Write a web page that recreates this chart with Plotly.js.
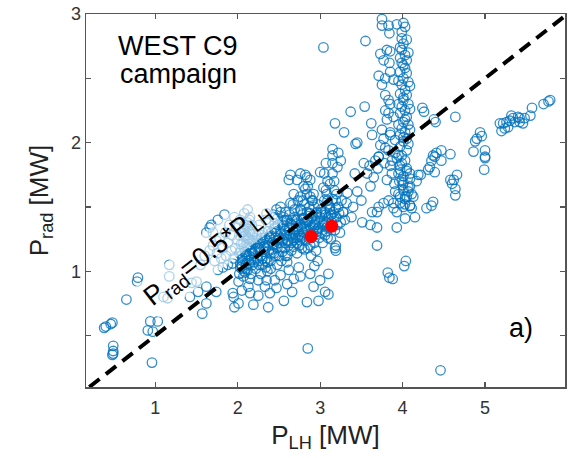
<!DOCTYPE html>
<html>
<head>
<meta charset="utf-8">
<script src="https://cdn.plot.ly/plotly-3.0.1.min.js"></script>
<style>html,body{margin:0;padding:0;background:#fff;}#chart{width:568px;height:458px;}</style>
</head>
<body>
<div id="chart"></div>
<script>
// ---- data (P_LH [MW], P_rad [MW]), grouped by region ----
const leftX = [0.38,0.40,0.46,0.48,0.49,0.49,0.49,0.48,0.65,0.78,
 0.79,0.94,1.03,0.91,0.97,0.96,1.17,1.17,1.10,1.15,
 1.44,1.50,1.42,1.52,1.62,1.74,1.62,1.57,1.76,1.82,
 1.88,1.94,1.94,1.96];
const leftY = [0.56,0.57,0.59,0.60,0.42,0.38,0.36,0.35,0.78,0.92,
 0.95,0.61,0.61,0.54,0.53,0.29,1.05,0.96,0.80,0.79,
 0.91,0.92,0.80,0.84,0.88,0.84,0.75,0.67,1.01,1.03,
 1.05,1.06,0.83,0.72];

const lowX = [2.37,2.19,2.25,2.05,2.13,2.01,1.95,2.56,2.66,2.84,
 2.98,3.10,2.85,4.46,2.01,2.15,2.33,2.39,2.47,2.60,
 2.68,2.76,2.74,2.62,2.52,2.45,2.35,2.25,2.15,2.07,
 2.92,3.06,3.00,2.88,3.10,2.60,2.81,2.72,2.93,2.97,
 4.04,4.02,3.82,3.84,3.88,3.69,3.19,3.19,3.18];
const lowY = [0.72,0.74,0.81,0.85,0.88,0.92,0.80,0.77,0.84,0.76,
 0.77,0.82,0.40,0.23,0.75,0.83,0.88,0.83,0.87,0.90,
 0.94,0.96,1.03,1.01,0.97,0.93,0.93,0.93,0.94,0.96,
 0.88,0.84,0.93,0.98,0.98,1.07,1.17,1.22,1.04,1.08,
 1.08,1.04,0.99,0.95,0.94,1.20,1.20,1.16,1.18];

const lightX = [1.60,1.66,1.70,1.75,1.78,1.82,1.85,1.88,1.90,1.93,
 1.96,1.98,2.00,2.03,2.05,2.08,2.10,1.72,1.80,1.86,
 1.92,1.97,2.02,1.55,1.66,1.76,1.84,2.12,2.15,1.95,
 1.68,1.62,1.70,1.74];
const lightY = [1.12,1.16,1.20,1.14,1.26,1.18,1.30,1.22,1.36,1.28,
 1.42,1.34,1.24,1.40,1.30,1.45,1.36,1.08,1.10,1.12,
 1.16,1.18,1.14,1.05,1.34,1.40,1.44,1.48,1.42,1.10,
 1.36,1.30,1.30,1.24];

const coreX = [2.02,2.05,2.08,2.10,2.12,2.06,2.14,2.09,2.16,2.11,
 2.07,2.13,2.10,2.15,2.12,2.08,2.17,2.14,2.18,2.20,
 2.19,2.04,2.03,2.21,2.16,
 2.22,2.25,2.28,2.24,2.30,2.32,2.27,2.35,2.36,2.33,
 2.38,2.40,2.42,2.41,2.44,2.46,2.48,2.45,2.50,2.52,
 2.50,2.54,2.55,2.57,2.58,2.56,2.30,2.26,2.38,2.43,
 2.48,2.36,2.28,2.53,2.60,2.35,2.47,2.52,2.23,2.40,
 2.62,2.64,2.66,2.63,2.68,2.70,2.72,2.69,2.74,2.76,
 2.78,2.75,2.80,2.82,2.84,2.86,2.88,2.90,2.87,2.92,
 2.94,2.96,2.93,2.98,3.00,2.99,2.65,2.72,2.78,2.85,
 2.60,2.67,2.73,2.81,2.91,2.97,2.62,2.83,2.89,2.95,
 3.02,3.04,3.06,3.08,3.10,3.12,3.09,3.14,3.16,3.18,
 3.20,3.22,3.25,3.28,3.05,3.15,3.24,3.03,3.13,3.30];
const coreY = [0.98,1.02,1.00,1.05,1.08,1.10,1.12,1.15,1.18,1.20,
 1.22,1.25,1.28,1.30,1.33,1.36,1.36,1.40,1.05,1.10,
 1.22,1.16,1.06,1.15,0.98,
 1.02,1.08,1.12,1.18,1.05,1.15,1.22,1.10,1.20,1.26,
 1.16,1.08,1.22,1.30,1.14,1.26,1.18,1.34,1.22,1.30,
 1.12,1.38,1.24,1.18,1.32,1.42,1.30,1.36,1.38,1.44,
 1.05,1.00,0.98,1.08,1.12,1.45,1.48,1.50,1.28,1.02,
 1.20,1.28,1.36,1.44,1.24,1.32,1.40,1.48,1.28,1.36,
 1.44,1.20,1.30,1.38,1.46,1.26,1.34,1.42,1.50,1.30,
 1.38,1.46,1.22,1.34,1.42,1.26,1.16,1.14,1.18,1.18,
 1.40,1.52,1.55,1.52,1.55,1.52,1.32,1.24,1.12,1.16,
 1.30,1.38,1.46,1.34,1.42,1.50,1.26,1.38,1.46,1.32,
 1.42,1.50,1.38,1.46,1.55,1.56,1.30,1.22,1.25,1.40];

const core2X = [2.05,2.10,2.12,2.18,2.20,2.26,2.29,2.34,2.37,2.42,
 2.44,2.49,2.54,2.56,2.61,2.66,2.68,2.73,2.78,2.80,
 2.86,2.88,2.94,2.96,3.01,3.06,3.08,3.13,2.06,2.12,
 2.18,2.24,2.26,2.32,2.38,2.44,2.50,2.56,2.58,2.64,
 2.70,2.76,2.78,2.84,2.90,2.96,3.02,3.08,2.14,2.36,
 2.46,2.68,2.86,3.12,2.30,2.48,2.70,2.88,2.58,2.76];
const core2Y = [1.04,1.13,1.01,1.24,1.07,1.18,1.26,1.03,1.31,1.17,
 1.21,1.36,1.15,1.28,1.24,1.40,1.19,1.34,1.26,1.41,
 1.31,1.45,1.36,1.29,1.48,1.36,1.31,1.44,1.30,1.26,
 1.14,1.24,1.05,1.19,1.27,1.33,1.26,1.33,1.22,1.37,
 1.26,1.48,1.33,1.39,1.26,1.31,1.44,1.38,1.21,1.07,
 1.12,1.30,1.39,1.48,1.10,1.41,1.40,1.20,1.46,1.27];

const core3X = [2.03,2.06,2.09,2.11,2.14,2.17,2.04,2.07,2.12,2.15,
 2.18,2.08,2.13,2.05,2.10,2.16,2.19,2.02,2.11,2.14,
 2.22,2.27,2.31,2.34,2.39,2.43,2.46,2.51,2.55,2.59,
 2.24,2.29,2.33,2.37,2.41,2.45,2.49,2.53,2.57,2.61,
 2.63,2.67,2.71,2.74,2.79,2.83,2.87,2.91,2.95,2.99,
 2.65,2.69,2.73,2.77,2.81,2.85,2.89,2.93,2.97,3.01,
 3.03,3.07,3.11,3.17,3.21,3.06,3.10,3.14,3.19,3.23,
 2.26,2.44,2.58,2.76,2.92,3.08,2.34,2.52,2.70,2.88];
const core3Y = [1.03,1.08,0.99,1.13,1.06,1.16,1.21,1.27,1.19,1.24,
 1.29,1.32,1.35,1.12,1.02,1.09,1.14,1.28,1.38,1.31,
 1.21,1.16,1.24,1.18,1.26,1.20,1.31,1.25,1.36,1.28,
 1.10,1.28,1.08,1.22,1.14,1.37,1.24,1.19,1.40,1.23,
 1.34,1.26,1.37,1.31,1.41,1.33,1.45,1.36,1.44,1.38,
 1.22,1.42,1.26,1.47,1.35,1.40,1.29,1.50,1.33,1.46,
 1.36,1.44,1.34,1.41,1.36,1.28,1.52,1.44,1.49,1.45,
 1.32,1.42,1.12,1.24,1.34,1.60,1.40,1.46,1.28,1.58];

const upX = [2.64,2.76,2.84,2.72,2.80,2.68,2.76,2.84,2.90,2.64,
 2.62,2.85,2.79,3.15,3.15,3.07,3.15,3.05,3.15,3.09,
 3.17,3.07,3.17,3.09,3.19,3.00,2.82,2.88,2.82,2.92,
 3.04,3.12,3.20,3.26,3.32,3.28,3.38,3.04,3.22,3.25];
const upY = [1.75,1.76,1.73,1.71,1.66,1.60,1.58,1.60,1.55,1.53,
 1.71,1.66,1.55,1.95,1.90,1.84,1.84,1.76,1.76,1.70,
 1.70,1.63,1.63,1.55,1.55,1.77,1.75,1.71,1.64,1.60,
 1.65,1.68,1.60,1.55,1.53,1.46,1.42,2.74,1.92,1.86];

const midX = [3.51,3.61,3.69,3.63,3.69,3.71,3.77,3.83,3.89,3.89,
 3.93,3.97,4.01,4.09,4.15,4.03,3.93,4.05,4.13,4.01,
 4.09,4.17,4.19,4.09,3.97,3.87,3.81,3.55,3.37,3.54,
 3.18,3.29,3.62,3.43,3.45,3.63,3.21,3.42,3.33,3.61,
 3.65,3.67,3.71,3.78,3.53,3.57,3.90,3.96,4.00,4.24,
 4.26,4.38,4.40,4.64,4.11,4.09,4.11,4.03,4.29,4.35,
 4.37,3.45,3.50,3.40,3.60,3.70,3.85];
const midY = [1.38,1.36,1.34,1.46,1.46,1.50,1.53,1.55,1.53,1.49,
 1.46,1.53,1.50,1.51,1.42,1.41,1.34,1.58,1.58,1.63,
 1.66,1.70,1.75,1.76,1.79,1.76,1.71,2.79,2.24,2.28,
 2.15,2.08,2.15,1.99,2.00,2.06,1.81,1.76,1.61,1.66,
 1.73,1.86,1.89,1.84,1.84,1.76,1.68,1.70,1.67,2.27,
 2.24,2.18,2.16,2.20,1.60,1.51,1.49,1.58,1.49,1.51,
 1.54,1.62,1.55,1.50,1.82,1.80,1.82];

const colX = [3.99,3.99,4.01,3.99,4.03,3.97,4.05,3.99,4.03,3.97,
 4.05,4.01,4.07,3.99,4.03,3.97,4.05,4.01,4.07,3.99,
 4.03,3.97,4.05,4.01,4.07,3.99,4.03,3.97,4.05,4.01,
 3.97,4.05,4.03,4.05,3.97,4.07,4.01,3.95,4.09,4.01,
 3.95,4.09,4.03,3.95,4.09,4.01,4.07,3.99,4.03,3.97,
 4.05,4.01,3.99,4.07,3.95,4.03,3.75,3.75,3.83,3.93,
 4.01,3.84,3.73,3.81,3.85,3.77,3.84,3.85,3.71,3.79,
 3.89,3.75,3.79,3.83,3.85,3.79,3.83,3.89,3.81,3.75,
 3.85,3.77,3.73,3.83,3.91,3.71,3.85,3.91,3.79,3.95,
 3.87,3.93,3.99,4.05,3.95,4.01,4.07,3.97,4.03,3.91,
 4.09];
const colY = [2.86,2.81,2.77,2.72,2.68,2.66,2.64,2.62,2.58,2.55,
 2.54,2.50,2.47,2.45,2.41,2.38,2.37,2.33,2.30,2.28,
 2.25,2.23,2.20,2.16,2.14,2.11,2.08,2.06,2.03,2.01,
 1.97,1.94,2.90,2.80,2.74,2.70,2.60,2.48,2.44,2.35,
 2.30,2.26,2.18,2.14,2.10,2.04,1.99,1.90,1.86,1.82,
 1.78,1.74,1.71,1.62,1.60,1.56,2.96,2.91,2.91,2.92,
 2.93,2.85,2.69,2.72,2.71,2.64,2.62,2.55,2.52,2.50,
 2.49,2.45,2.37,2.33,2.30,2.25,2.23,2.20,2.18,2.10,
 2.06,2.03,1.98,1.94,1.92,1.89,2.08,2.02,1.96,1.90,
 1.86,1.88,1.84,1.80,1.76,1.69,1.65,1.58,1.52,1.62,
 1.72];

const rightX = [4.37,4.39,4.35,4.47,4.58,4.47,4.33,4.39,4.31,4.41,
 4.22,4.66,4.62,4.60,4.64,4.64,4.58,4.94,4.90,4.88,
 4.96,4.86,5.00,5.00,5.00,4.99,5.71,5.79,5.77,5.57,
 5.55,5.48,5.42,5.46,5.40,5.34,5.32,5.30,5.26,5.22,
 5.18,5.24,5.20,5.28,5.36,5.42];
const rightY = [1.90,1.89,1.86,1.94,1.91,1.86,1.81,1.77,1.79,1.92,
 1.75,1.75,1.71,1.68,1.64,1.59,1.71,2.08,2.03,2.01,
 2.05,1.93,1.94,1.89,1.88,1.79,2.30,2.33,2.32,2.27,
 2.21,2.19,2.16,2.15,2.20,2.19,2.21,2.17,2.16,2.15,
 2.15,2.11,2.09,2.12,2.16,2.19];

// highlighted discharges
const redX = [2.89, 3.14];
const redY = [1.27, 1.35];

// reference line P_rad = 0.5 * P_LH
const lineX = [0.2, 6.0];
const lineY = lineX.map(v => 0.5 * v);

const xTicks = [1, 2, 3, 4, 5];
const yTicks = [0.5, 1, 1.5, 2, 2.5, 3];
const yTickText = ['', '1', '', '2', '', '3'];

// ---- chart ----
const allX = [].concat(leftX, lowX, lightX, coreX, core2X, core3X, upX, midX, colX, rightX);
const allY = [].concat(leftY, lowY, lightY, coreY, core2Y, core3Y, upY, midY, colY, rightY);

const FONT = 'Liberation Sans, Arial, Helvetica, sans-serif';
const AX = '#555';

const traces = [
  {x: allX, y: allY, type: 'scatter', mode: 'markers', hoverinfo: 'skip',
   marker: {symbol: 'circle-open', size: 9.5, color: 'rgba(0,114,189,0.8)', line: {width: 1.3}}},
  {x: lineX, y: lineY, type: 'scatter', mode: 'lines', hoverinfo: 'skip',
   line: {color: '#000', width: 4, dash: '13px,8px'}},
  {x: redX, y: redY, type: 'scatter', mode: 'markers', hoverinfo: 'skip',
   marker: {symbol: 'circle', size: 13, color: '#ff0000'}}
];

const axisCommon = {
  ticks: 'inside', ticklen: 5, tickwidth: 1.2, tickcolor: AX,
  showline: true, linecolor: AX, linewidth: 1.5, mirror: 'ticks',
  showgrid: false, zeroline: false, automargin: false,
  tickfont: {family: FONT, size: 18, color: '#333'}
};

const layout = {
  width: 568, height: 458,
  margin: {l: 86, r: 3, t: 14, b: 71, pad: 0},
  paper_bgcolor: '#fff', plot_bgcolor: '#fff',
  showlegend: false,
  font: {family: FONT, color: '#111'},
  xaxis: Object.assign({}, axisCommon, {
    range: [0.16, 5.97], tickvals: xTicks, ticklabelstandoff: 4,
    title: {text: 'P<sub>LH</sub> [MW]', font: {family: FONT, size: 26, color: '#222'}, standoff: 8}
  }),
  yaxis: Object.assign({}, axisCommon, {
    range: [0.1, 3], tickvals: yTicks, ticktext: yTickText,
    title: {text: 'P<sub>rad</sub> [MW]', font: {family: FONT, size: 26, color: '#222'}, standoff: 15}
  }),
  annotations: [
    {xref: 'x', yref: 'y', x: 1.28, y: 2.755, text: 'WEST C9', showarrow: false,
     font: {family: FONT, size: 27, color: '#000'}},
    {xref: 'x', yref: 'y', x: 1.28, y: 2.537, text: 'campaign', showarrow: false,
     font: {family: FONT, size: 27, color: '#000'}},
    {xref: 'x', yref: 'y', x: 5.44, y: 0.56, text: 'a)', showarrow: false,
     font: {family: FONT, size: 27, color: '#000'}},
    {xref: 'x', yref: 'y', x: 1.63, y: 1.13, text: 'P<sub>rad</sub>=0.5*P<sub>LH</sub>', showarrow: false,
     textangle: -38, bgcolor: 'rgba(255,255,255,0.6)', borderpad: 2,
     font: {family: FONT, size: 27, color: '#000'}}
  ]
};

Plotly.newPlot('chart', traces, layout, {displayModeBar: false, staticPlot: true});
</script>
</body>
</html>
